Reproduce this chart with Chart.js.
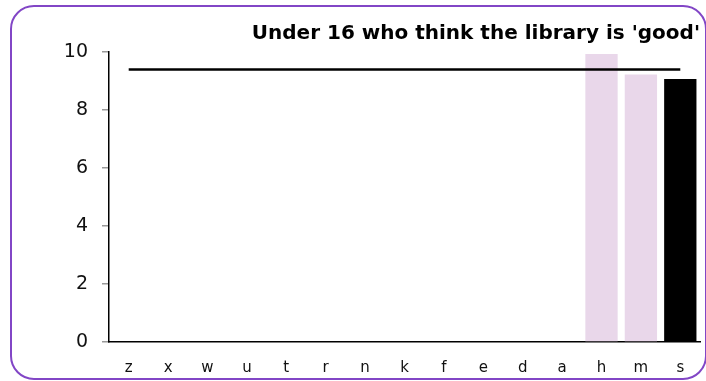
<!DOCTYPE html>
<html>
<head>
<meta charset="utf-8">
<script src="https://cdn.jsdelivr.net/npm/chart.js@4.4.0/dist/chart.umd.min.js"></script>
<style>
  html, body { margin: 0; padding: 0; background: #fff; }
  #wrap { position: relative; width: 706px; height: 381px; overflow: hidden; }
  #frame {
    position: absolute; left: 10px; top: 5px; width: 697px; height: 375px;
    border: 2px solid #8246c6; border-radius: 24px; box-sizing: border-box;
  }
  #c { position: absolute; left: 0; top: 0; }
</style>
</head>
<body>
<div id="wrap">
  <div id="frame"></div>
  <canvas id="c" width="706" height="381"></canvas>
</div>
<script>
// Data
const categories = ['z', 'x', 'w', 'u', 't', 'r', 'n', 'k', 'f', 'e', 'd', 'a', 'h', 'm', 's'];
const barValues = [null, null, null, null, null, null, null, null, null, null, null, null, 9.93, 9.22, 9.07];
const barColors = ['#e9d7ea', '#e9d7ea', '#e9d7ea', '#e9d7ea', '#e9d7ea', '#e9d7ea', '#e9d7ea',
  '#e9d7ea', '#e9d7ea', '#e9d7ea', '#e9d7ea', '#e9d7ea', '#e9d7ea', '#e9d7ea', '#000000'];
const averageValues = [9.4, 9.4, 9.4, 9.4, 9.4, 9.4, 9.4, 9.4, 9.4, 9.4, 9.4, 9.4, 9.4, 9.4, 9.4];
const yTicks = [0, 2, 4, 6, 8, 10];
const chartTitle = "Under 16 who think the library is 'good'";

const FONT = "'DejaVu Sans', Verdana, sans-serif";

new Chart(document.getElementById('c'), {
  type: 'bar',
  data: {
    labels: categories,
    datasets: [
      {
        type: 'line',
        data: averageValues,
        borderColor: '#000',
        borderWidth: 2.5,
        pointRadius: 0,
        fill: false,
        order: 0
      },
      {
        data: barValues,
        backgroundColor: barColors,
        categoryPercentage: 1,
        barPercentage: 0.82,
        order: 1
      }
    ]
  },
  options: {
    responsive: false,
    animation: false,
    layout: { padding: { left: 0, right: 6, top: 0, bottom: 0 } },
    plugins: {
      legend: { display: false },
      tooltip: { enabled: false },
      title: {
        display: true,
        text: chartTitle,
        align: 'end',
        color: '#000',
        font: { family: FONT, size: 20, weight: 'bold', lineHeight: 1.2 },
        padding: { top: 22, bottom: 6 }
      }
    },
    scales: {
      x: {
        grid: { display: false, drawTicks: false },
        border: { display: true, color: '#000', width: 1.5 },
        ticks: { color: '#111', font: { family: FONT, size: 15 }, padding: 17, maxRotation: 0 },
        afterFit: s => { s.height = 39; }
      },
      y: {
        min: 0,
        max: 10,
        afterBuildTicks: s => { s.ticks = yTicks.map(v => ({ value: v })); },
        grid: { drawOnChartArea: false, tickLength: 7, tickColor: '#999', lineWidth: 1.5 },
        border: { display: true, color: '#000', width: 1.5 },
        ticks: { color: '#111', font: { family: FONT, size: 19 }, padding: 14 },
        afterFit: s => { s.width = 109; }
      }
    }
  }
});
</script>
</body>
</html>
